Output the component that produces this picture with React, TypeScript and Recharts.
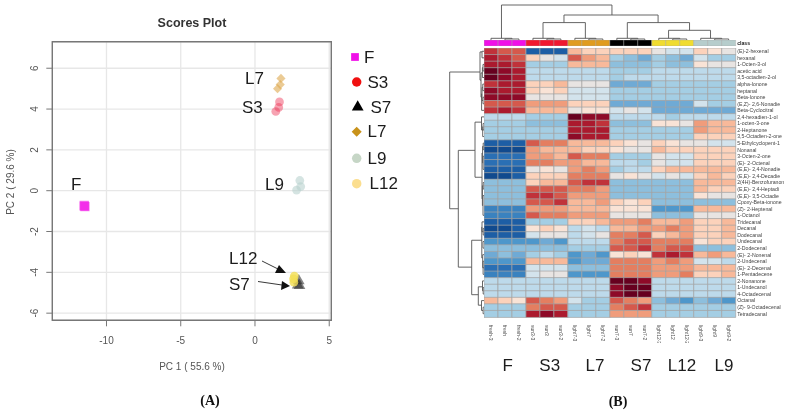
import {
  BarChart, Bar, Cell, XAxis, YAxis, ScatterChart, Scatter, CartesianGrid,
  ReferenceArea, Symbols,
} from 'recharts'

// ---- scores plot data
const pcaXTicks = [-10, -5, 0, 5]
const pcaYTicks = [-6, -4, -2, 0, 2, 4, 6]
const scoresF = [{ x: -11.5, y: -0.72 }, { x: -11.45, y: -0.78 }, { x: -11.5, y: -0.76 }]
const scoresS3 = [{ x: 1.65, y: 4.35 }, { x: 1.6, y: 4.08 }, { x: 1.4, y: 3.88 }]
const scoresS7 = [{ x: 2.95, y: -4.42 }, { x: 2.88, y: -4.62 }, { x: 3.0, y: -4.65 }]
const scoresL7 = [{ x: 1.75, y: 5.5 }, { x: 1.7, y: 5.2 }, { x: 1.52, y: 5.0 }]
const scoresL9 = [{ x: 3.02, y: 0.5 }, { x: 3.08, y: 0.2 }, { x: 2.8, y: 0.03 }]
const scoresL12 = [{ x: 2.65, y: -4.18 }, { x: 2.6, y: -4.32 }, { x: 2.62, y: -4.48 }]

const scoreSeries = [
  { name: 'L7', data: scoresL7, type: 'diamond', size: 42, color: '#DDA94F', opacity: 0.6 },
  { name: 'S3', data: scoresS3, type: 'circle', size: 60, color: '#EE3355', opacity: 0.45 },
  { name: 'L9', data: scoresL9, type: 'circle', size: 60, color: '#B9D2CE', opacity: 0.6 },
  { name: 'F', data: scoresF, type: 'square', size: 85, color: '#F222E8', opacity: 0.6 },
  { name: 'S7', data: scoresS7, type: 'triangle', size: 60, color: '#222222', opacity: 0.55 },
  { name: 'L12', data: scoresL12, type: 'circle', size: 60, color: '#F2DE55', opacity: 0.8 },
]

// ---- heatmap data
const sampleNames = [
  'fresh-3', 'fresh', 'fresh-2', 'sun3-3', 'sun3', 'sun3-2',
  'light7-3', 'light7', 'light7-2', 'sun7-3', 'sun7', 'sun7-2',
  'light12-3', 'light12', 'light12-2', 'light9-3', 'light9', 'light9-2',
]
const classColors = ['#F010E8', '#F01830', '#E09C20', '#000000', '#F0DC30', '#B6CDCC']

const compoundNames = [
  '(E)-2-hexenal', 'hexanal', '1-Octen-3-ol', 'acetic acid', '3,5-octadien-2-ol',
  'alpha-Ionone', 'heptanal', 'Beta-Ionone', '(E,Z)- 2,6-Nonadie', 'Beta-Cyclocitral',
  '2,4-hexadien-1-ol', '1-octen-3-one', '2-Heptanone', '3,5-Octadien-2-one', '5-Ethylcyclopent-1',
  'Nonanal', '3-Octen-2-one', '(E)- 2-Octenal', '(E,E)- 2,4-Nonadie', '(E,E)- 2,4-Decadie',
  '2(4H)-Benzofuranon', '(E,E)- 2,4-Heptadi', '(E,E)- 3,5-Octadie', 'Cpoxy-Beta-ionone', '(Z)- 2-Heptenal',
  '1-Octanol', 'Tridecanal', 'Decanal', 'Dodecanal', 'Undecanal',
  '2-Dodecenal', '(E)- 2-Nonenal', '2-Undecenal', '(E)- 2-Decenal', '1-Pentadecene',
  '2-Nonanone', '1-Undecanol', '4-Octadecenal', 'Octanal', '(Z)- 9-Octadecenal',
  'Tetradecanal',
]

// scaled abundance, -10 (deep blue) .. 10 (deep red)
const heatValues = [
  [7, 6, 6, -9, -9, -9, 3, 2, 2, 2, 2, 2, 0, -1, -1, 2, 1, 0],
  [8, 7, 6, 2, 0, -1, 6, 4, 3, -3, -4, -5, -3, -4, -5, -1, -3, -3],
  [8, 8, 7, -3, -3, -3, 3, 3, 3, -4, -4, -4, -3, -4, -4, 1, 0, 0],
  [10, 9, 8, -2, -2, -2, -2, -2, -2, -3, -3, -3, -2, -2, -2, -2, -2, -2],
  [10, 9, 8, -2, -2, -2, -2, -2, -2, -3, -2, -2, -2, -2, -2, -2, -2, -2],
  [7, 8, 8, 2, 2, 3, 0, 0, 0, -5, -5, -5, -3, -3, -3, -3, -3, -3],
  [9, 8, 8, 2, 1, 2, -1, -1, -1, -3, -3, -3, -3, -3, -3, -3, -3, -3],
  [9, 9, 9, 0, 0, 0, -1, -1, -1, -3, -3, -3, -3, -3, -3, -3, -3, -3],
  [6, 6, 6, 4, 4, 4, 2, 2, 2, -5, -5, -5, -5, -5, -5, -1, -3, -3],
  [7, 8, 7, 3, 3, 3, 0, 1, 1, -1, 0, -1, -5, -5, -5, -5, -5, -5],
  [-2, -2, -2, -3, -3, -3, 10, 9, 9, -2, -2, -2, -2, -3, -2, -2, -2, -2],
  [-3, -3, -3, -4, -4, -4, 8, 8, 7, -4, -4, -4, 1, 1, 0, 4, 3, 3],
  [-3, -3, -3, -3, -3, -3, 8, 8, 8, -3, -3, -3, -3, -3, -3, 4, 3, 3],
  [-3, -3, -3, -3, -3, -3, 9, 8, 8, -3, -3, -3, -3, -3, -3, 2, 2, 2],
  [-9, -9, -9, 6, 5, 5, 3, 3, 3, 2, 1, 0, 2, 1, 0, 0, -1, -1],
  [-10, -10, -10, 4, 3, 3, 3, 2, 2, 1, 0, 0, 3, 2, 2, 2, 2, 2],
  [-8, -8, -8, 4, 4, 3, 6, 5, 5, -3, -3, -3, 0, -1, -1, 2, 2, 2],
  [-8, -8, -8, 5, 5, 4, 4, 3, 3, -2, -2, -3, 0, -1, -1, 2, 2, 2],
  [-9, -9, -9, 0, 1, 0, 4, 5, 4, -3, -2, -2, 2, 3, 3, 3, 3, 3],
  [-10, -10, -9, 2, 2, 2, 5, 5, 5, 0, 1, 0, -1, 0, -1, 2, 3, 2],
  [-4, -4, -4, 2, 3, 3, 6, 7, 7, -4, -4, -4, -4, -4, -4, 3, 3, 3],
  [-4, -4, -4, 6, 6, 6, 5, 5, 4, -4, -4, -4, -4, -4, -4, 3, 2, 2],
  [-4, -4, -4, 7, 7, 6, 4, 4, 4, -4, -4, -4, -4, -4, -4, 1, 0, 0],
  [-4, -4, -4, 6, 6, 7, 3, 3, 4, 2, 1, 2, -4, -4, -4, -4, -4, -4],
  [-7, -7, -7, 4, 4, 4, 3, 3, 3, 1, 1, 1, -6, -6, -6, 3, 3, 3],
  [-7, -7, -7, 6, 5, 5, 4, 4, 4, 0, 0, 0, -4, -4, -4, 0, 0, 0],
  [-9, -9, -9, -3, -3, -3, 2, 2, 3, 4, 4, 5, 3, 3, 4, 2, 2, 3],
  [-10, -10, -9, 1, 2, 1, -2, -1, -2, 3, 3, 4, 4, 5, 4, 2, 2, 3],
  [-9, -9, -9, -1, 0, 0, -2, -1, 0, 5, 5, 6, 2, 3, 4, 2, 2, 3],
  [-6, -6, -6, -6, -5, -6, -2, -2, -2, 5, 6, 6, 5, 5, 5, 1, 2, 2],
  [-4, -4, -4, -4, -4, -4, -3, -3, -3, 6, 6, 7, 5, 6, 6, -4, -4, -4],
  [-5, -4, -5, -3, -2, -3, -6, -5, -6, 1, 2, 1, 7, 8, 7, 3, 4, 3],
  [-6, -6, -6, 3, 3, 3, -6, -5, -5, 5, 5, 5, 4, 5, 4, -1, -1, -2],
  [-8, -8, -8, -1, -1, -1, -4, -4, -4, 5, 5, 5, 4, 4, 4, 3, 3, 3],
  [-7, -7, -7, -1, 0, 0, -6, -6, -6, 5, 5, 5, 4, 4, 5, 2, 2, 3],
  [-2, -2, -2, -2, -2, -2, -2, -2, -2, 10, 10, 9, -2, -2, -2, -2, -2, -2],
  [-2, -2, -2, -2, -2, -2, -2, -2, -2, 9, 10, 10, -2, -2, -2, -2, -2, -2],
  [-2, -2, -2, -2, -2, -2, -2, -2, -2, 9, 10, 10, -2, -2, -2, -2, -2, -2],
  [3, 2, 1, 6, 5, 4, -1, -3, -3, 6, 5, 4, -4, -5, -6, -4, -5, -6],
  [-3, -3, -3, 5, 6, 6, -3, -3, -3, 5, 6, 7, -3, -3, -3, -3, -3, -3],
  [-3, -3, -3, 8, 9, 8, -3, -3, -3, 4, 4, 4, -3, -3, -3, -3, -3, -3],
]

const ramp = [
  '#114A8E', '#1D5EA5', '#2A6FB4', '#3A82BF', '#4E97CB', '#6FAAD5', '#8DBFDD', '#A4CEE4', '#BDDAEB', '#D3E3EC',
  '#E8E4E2',
  '#F9E3D6', '#FCD2BB', '#F8B99A', '#F09C7B', '#E47E60', '#D5594C', '#C0323A', '#AB1A2E', '#8E0A28', '#67001F',
]
const heatColor = (v: number) => ramp[v + 10]

// dendrogram merges: [from, fromHeight, to, toHeight, mergeHeight]
const columnMerges = [
  [1.25, 1.7, 9.15, 25, 35],
  [5.72, 17.4, 12.45, 17.4, 25],
  [4.22, 1.7, 7.25, 1.7, 17.4],
  [10.25, 1.7, 14.7, 9.7, 17.4],
  [13.2, 1.7, 16.2, 1.7, 9.7],
  [1.5, 0, 2.5, 0, 1], [0.5, 0, 2, 1, 1.7],
  [4.5, 0, 5.5, 0, 1], [3.5, 0, 5, 1, 1.7],
  [7.5, 0, 8.5, 0, 1], [6.5, 0, 8, 1, 1.7],
  [10.5, 0, 11.5, 0, 1], [9.5, 0, 11, 1, 1.7],
  [13.5, 0, 14.5, 0, 1], [12.5, 0, 14, 1, 1.7],
  [16.5, 0, 17.5, 0, 1], [15.5, 0, 17, 1, 1.7],
]
const rowMerges = [
  [3.66, 4, 24.5, 25.7, 34.3],
  [15.6, 9, 33.4, 12.3, 25.7],
  [11.3, 2.5, 19.7, 2, 9],
  [29.3, 2, 37.6, 5.7, 12.3],
  [36.4, 1.5, 39.2, 2.5, 5.7],
  [0.6, 2, 4.9, 3, 4],
  [0.5, 0, 1.5, 0, 2], [2.5, 0, 3.5, 0, 1], [3, 1, 4.5, 0, 1.6], [3.8, 1.6, 7.5, 2.4, 3],
  [5.5, 0, 6.5, 0, 1.2], [7.5, 0, 8.5, 0, 1], [6, 1.2, 8, 1, 2], [7, 2, 9.5, 0, 2.4],
  [10.5, 0, 12.5, 1, 2.5], [11.5, 0, 12.5, 0, 0.9], [12, 0.9, 13.5, 0, 1.3],
  [16, 1.4, 23, 1.6, 2], [14.5, 0, 15.5, 0, 0.8], [15, 0.8, 17.5, 0.9, 1.4], [16.5, 0, 18.5, 0, 0.9],
  [20.5, 0, 21.5, 0, 0.8], [21, 0.8, 24, 1, 1.6], [22.5, 0, 25.5, 0, 1],
  [26.5, 0, 28, 0.8, 2], [27.5, 0, 28.5, 0, 0.8], [27.3, 2, 32, 1.3, 2.2],
  [29.5, 0, 30.5, 0, 1], [31.5, 0, 33.5, 0, 1.3], [32.5, 0, 34.5, 0, 0.9],
  [35.5, 0, 37, 0.8, 1.5], [36.5, 0, 37.5, 0, 0.8],
  [38.5, 0, 40, 0.9, 2.5], [39.5, 0, 40.5, 0, 0.9],
]

const groupLabels = [
  { name: 'F', x: 507.7 }, { name: 'S3', x: 549.7 }, { name: 'L7', x: 595 },
  { name: 'S7', x: 641 }, { name: 'L12', x: 682 }, { name: 'L9', x: 724 },
]

const legendItems = [
  { name: 'F', type: 'square', color: '#F010E8', size: 60, mx: 355, my: 57, tx: 364 },
  { name: 'S3', type: 'circle', color: '#F01010', size: 70, mx: 356.7, my: 82, tx: 367.5 },
  { name: 'S7', type: 'triangle', color: '#000000', size: 60, mx: 357.7, my: 107, tx: 370.5 },
  { name: 'L7', type: 'diamond', color: '#C8921A', size: 50, mx: 356.7, my: 131.7, tx: 367.5 },
  { name: 'L9', type: 'circle', color: '#C6D6C6', size: 70, mx: 356.7, my: 158.3, tx: 367.5 },
  { name: 'L12', type: 'circle', color: '#FBDE8F', size: 70, mx: 356.7, my: 183.7, tx: 369.5 },
]

const sans = '"Liberation Sans", Arial, sans-serif'

const heatRows = compoundNames.map((name) => {
  const row: any = { name }
  sampleNames.forEach((_, c) => { row['c' + c] = 1 })
  return row
})
const classRow = [(() => {
  const row: any = { name: 'class' }
  sampleNames.forEach((_, c) => { row['c' + c] = 1 })
  return row
})()]
const sampleTicks = sampleNames.map((_, c) => c + 0.5)

const RotatedY = ({ x, y, payload }: any) => (
  <text x={x - 3} y={y} transform={`rotate(-90 ${x - 3} ${y})`} textAnchor="middle" fontSize={10} fontFamily={sans} fill="#555">
    {payload.value}
  </text>
)

const SampleTick = ({ x, y, payload }: any) => (
  <text x={x} y={y} transform={`rotate(90 ${x} ${y})`} dy={1.8} fontSize={5} fontFamily={sans} fill="#555">
    {sampleNames[Math.round(payload.value - 0.5)]}
  </text>
)

// plain text tick, the default one wraps names at their spaces
const CompoundTick = ({ x, y, payload, bold }: any) => (
  <text x={x} y={y} dy={1.9} fontSize={5.2} fontWeight={bold ? 700 : 400} fontFamily={sans} fill={bold ? '#222' : '#444'}>
    {payload.value}
  </text>
)

// rdkit-free diamond: the library's own one is too narrow, so turn a square
const Marker = ({ cx, cy, type, size, fill, fillOpacity }: any) =>
  type === 'diamond' ? (
    <g transform={`rotate(45 ${cx} ${cy})`}>
      <Symbols cx={cx} cy={cy} type="square" size={size} fill={fill} fillOpacity={fillOpacity} />
    </g>
  ) : (
    <Symbols cx={cx} cy={cy} type={type} size={size} fill={fill} fillOpacity={fillOpacity} />
  )

const Label = ({ x, y, children, size = 17, anchor = 'left' }: any) => (
  <div style={{
    position: 'absolute', left: x, top: y, fontFamily: sans, fontSize: size, lineHeight: 1, color: '#1c1c1c',
    transform: anchor === 'center' ? 'translate(-50%, -50%)' : 'translateY(-50%)', whiteSpace: 'nowrap',
  }}>
    {children}
  </div>
)

const mergePath = ([a, ah, b, bh, h]: number[], horizontal: boolean) => {
  const pts = [[a, ah], [a, h], [b, h], [b, bh]]
  return pts.map(([p, v]) => (horizontal ? { x: p, y: v } : { x: v, y: p }))
}

const TopDendrogram = () => (
  <ScatterChart width={251.7} height={38} margin={{ top: 0, right: 0, bottom: 0, left: 0 }}>
    <XAxis type="number" dataKey="x" domain={[0, 18]} hide />
    <YAxis type="number" dataKey="y" domain={[0, 38]} hide />
    {columnMerges.map((m, i) => (
      <Scatter key={i} data={mergePath(m, true)} line={{ stroke: '#555', strokeWidth: 0.9 }} lineType="joint"
        shape={() => null} isAnimationActive={false} />
    ))}
  </ScatterChart>
)

const LeftDendrogram = () => (
  <ScatterChart width={35} height={269} margin={{ top: 0, right: 0, bottom: 0, left: 0 }}>
    <XAxis type="number" dataKey="x" domain={[0, 35]} hide />
    <YAxis type="number" dataKey="y" domain={[0, 41]} reversed hide />
    {rowMerges.map((m, i) => (
      <Scatter key={i} data={mergePath(m, false).map(p => ({ x: 35 - p.x, y: p.y }))}
        line={{ stroke: '#555', strokeWidth: 0.9 }} lineType="joint"
        shape={() => null} isAnimationActive={false} />
    ))}
  </ScatterChart>
)

const ScoresPlot = () => (
  <ScatterChart width={345} height={380} margin={{ top: 41.7, right: 13.7, bottom: 29.7, left: 0 }}>
    <CartesianGrid stroke="#E7E7E7" strokeWidth={1.3} />
    <XAxis type="number" dataKey="x" domain={[-13.65, 5.14]} ticks={pcaXTicks} interval={0} height={30}
      axisLine={false} tickSize={6} tickLine={{ stroke: '#777' }} tickMargin={11}
      tick={{ fill: '#555', fontSize: 10, fontFamily: sans }} />
    <YAxis type="number" dataKey="y" domain={[-6.35, 7.3]} ticks={pcaYTicks} interval={0} width={52.3}
      axisLine={false} tickSize={6} tickLine={{ stroke: '#777' }} tick={<RotatedY />} tickMargin={5} />
    <ReferenceArea x1={-13.65} x2={5.14} y1={-6.35} y2={7.3} fill="none" stroke="#777" strokeWidth={1.4} />
    {scoreSeries.map(s => (
      <Scatter key={s.name} name={s.name} data={s.data} isAnimationActive={false} style={{ filter: 'blur(0.6px)' }}
        shape={(p: any) => (
          <Marker cx={p.cx} cy={p.cy} type={s.type} size={s.size} fill={s.color} fillOpacity={s.opacity} />
        )} />
    ))}
  </ScatterChart>
)

const HeatMap = () => (
  <BarChart layout="vertical" width={306.7} height={295} data={heatRows} barCategoryGap={0}
    margin={{ top: 0, right: 0, bottom: 0, left: 0 }}>
    <XAxis type="number" domain={[0, 18]} ticks={sampleTicks} interval={0} height={26}
      axisLine={false} tickLine={false} tick={<SampleTick />} />
    <YAxis type="category" dataKey="name" orientation="right" width={55} interval={0}
      axisLine={false} tickLine={false} tickSize={0} tickMargin={1.5} tick={<CompoundTick />} />
    {sampleNames.map((_, c) => (
      <Bar key={c} dataKey={'c' + c} stackId="h" isAnimationActive={false} stroke="#A3A3A3" strokeWidth={0.7}>
        {heatRows.map((row, r) => <Cell key={row.name} fill={heatColor(heatValues[r][c])} />)}
      </Bar>
    ))}
  </BarChart>
)

const ClassBar = () => (
  <BarChart layout="vertical" width={306.7} height={5.8} data={classRow} barCategoryGap={0}
    margin={{ top: 0, right: 0, bottom: 0, left: 0 }}>
    <XAxis type="number" domain={[0, 18]} hide />
    <YAxis type="category" dataKey="name" orientation="right" width={55} interval={0}
      axisLine={false} tickLine={false} tickSize={0} tickMargin={1.5} tick={<CompoundTick bold />} />
    {sampleNames.map((_, c) => (
      <Bar key={c} dataKey={'c' + c} stackId="k" isAnimationActive={false} stroke="#A3A3A3" strokeWidth={0.4}>
        <Cell fill={classColors[Math.floor(c / 3)]} />
      </Bar>
    ))}
  </BarChart>
)

export default function App() {
  return (
    <div style={{ position: 'absolute', left: 0, top: 0, width: 791, height: 412, background: '#fff', overflow: 'hidden', filter: 'blur(0.45px)' }}>
      <div style={{ position: 'absolute', left: 0, top: 0 }}><ScoresPlot /></div>

      <div style={{ position: 'absolute', left: 0, top: 11, width: 384, textAlign: 'center', fontFamily: sans, fontSize: 12.5, fontWeight: 700, color: '#333', lineHeight: '24px' }}>Scores Plot</div>
      <div style={{ position: 'absolute', left: 0, top: 360, width: 384, textAlign: 'center', fontFamily: sans, fontSize: 10, color: '#555', lineHeight: '14px' }}>PC 1 ( 55.6 %)</div>
      <div style={{ position: 'absolute', left: 10, top: 181.5, fontFamily: sans, fontSize: 10, color: '#555', whiteSpace: 'nowrap', transform: 'translate(-50%, -50%) rotate(-90deg)' }}>PC 2 ( 29.6 %)</div>

      <Label x={245} y={78}>L7</Label>
      <Label x={242} y={106.5}>S3</Label>
      <Label x={71} y={184}>F</Label>
      <Label x={265} y={183.5}>L9</Label>
      <Label x={229} y={257.5}>L12</Label>
      <Label x={229} y={283.5}>S7</Label>

      <svg width={791} height={412} style={{ position: 'absolute', left: 0, top: 0 }}>
        <line x1={262} y1={261} x2={280} y2={270} stroke="#222" strokeWidth={0.9} />
        <polygon points="286,273 275,273 279,265" fill="#111" />
        <line x1={258} y1={281.5} x2={282} y2={285} stroke="#222" strokeWidth={0.9} />
        <polygon points="290,286 281,290 282,281" fill="#111" />
        {legendItems.map(l => (
          <Marker key={l.name} cx={l.mx} cy={l.my} type={l.type} size={l.size} fill={l.color} />
        ))}
      </svg>
      {legendItems.map(l => <Label key={l.name} x={l.tx} y={l.my - 0.5}>{l.name}</Label>)}

      <div style={{ position: 'absolute', left: 484.3, top: 1.7 }}><TopDendrogram /></div>
      <div style={{ position: 'absolute', left: 449, top: 47.7 }}><LeftDendrogram /></div>
      <div style={{ position: 'absolute', left: 484.3, top: 40 }}><ClassBar /></div>
      <div style={{ position: 'absolute', left: 484.3, top: 47.7 }}><HeatMap /></div>

      {groupLabels.map(g => <Label key={g.name} x={g.x} y={365} anchor="center">{g.name}</Label>)}

      <div style={{ position: 'absolute', left: 210, top: 401, transform: 'translate(-50%, -50%)', fontFamily: '"Liberation Serif", serif', fontSize: 14, fontWeight: 700, color: '#111' }}>(A)</div>
      <div style={{ position: 'absolute', left: 618, top: 402, transform: 'translate(-50%, -50%)', fontFamily: '"Liberation Serif", serif', fontSize: 14, fontWeight: 700, color: '#111' }}>(B)</div>
    </div>
  )
}
